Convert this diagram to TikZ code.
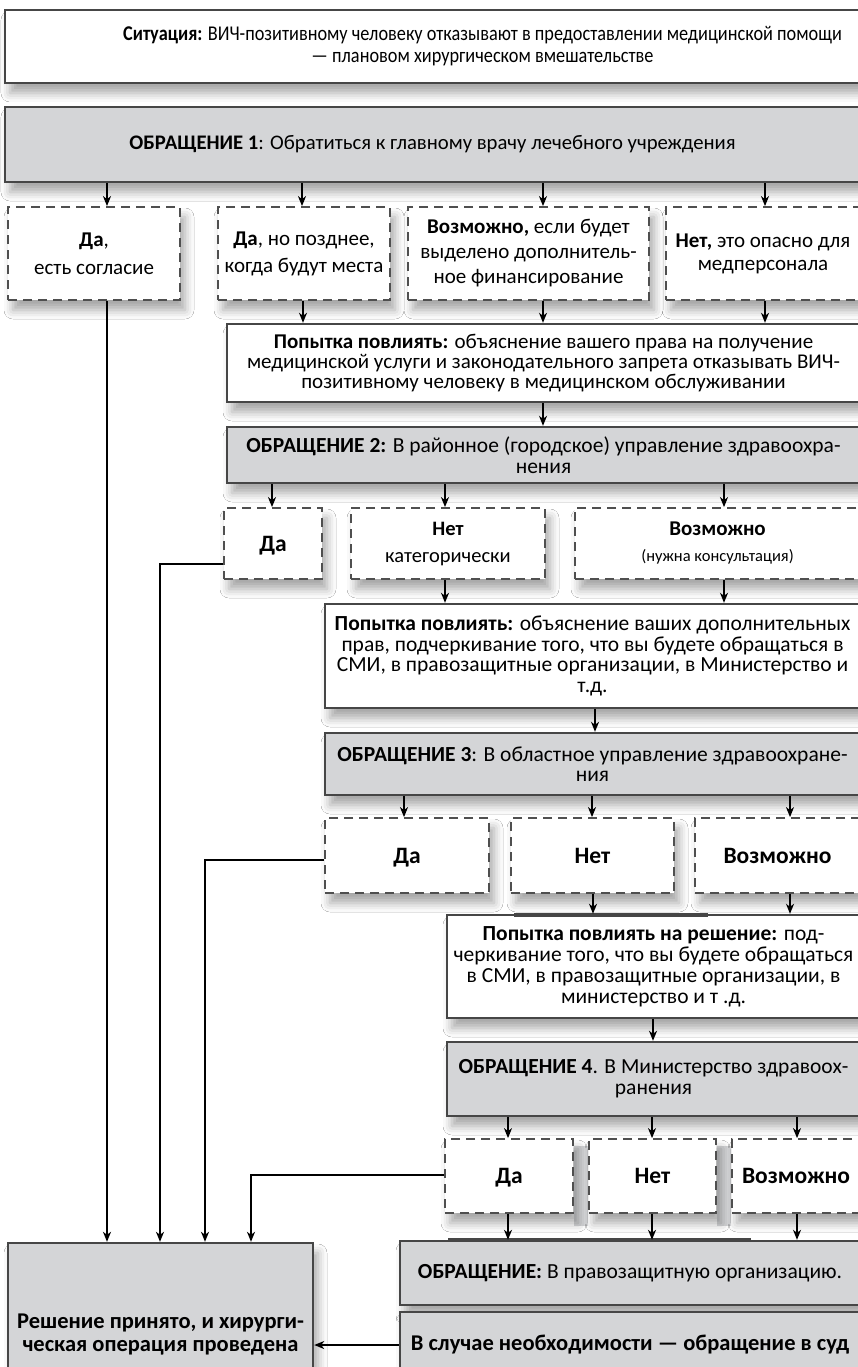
\documentclass[tikz,border=0pt]{standalone}
\usepackage{fontspec}
\setmainfont{Carlito}
\newfontfamily\narrowfont{Carlito}[FakeStretch=0.87]
\usetikzlibrary{arrows.meta,shadows.blur}
\definecolor{boxgrey}{HTML}{D4D5D7}
\definecolor{boxline}{HTML}{464646}
\definecolor{dashline}{HTML}{4F4F4F}
\definecolor{stripgrey}{HTML}{D6D7D9}
\newcommand\fs[2]{\fontsize{#1}{#2}\selectfont}
\tikzset{
  soft shadow/.style={blur shadow={shadow xshift=5pt,shadow yshift=-10pt,shadow blur radius=9pt,shadow opacity=35}},
  plain box/.style={draw=boxline,line width=2.4pt,fill=white,align=center,inner sep=0pt,font=\fs{21.5}{20.5},soft shadow},
  grey box/.style={plain box,fill=boxgrey},
  answer box/.style={draw=dashline,line width=1.8pt,dash pattern=on 9pt off 6pt,fill=white,align=center,inner sep=0pt,font=\fs{21}{25},soft shadow},
  big word/.style={font=\fs{23.5}{25}\bfseries,text depth=0pt},
  arr/.style={line width=1.4pt,-{Stealth[length=10pt,width=8pt,inset=3pt]}}
}
\begin{document}
\begin{tikzpicture}[x=1pt,y=-1pt]
\useasboundingbox (0,0) rectangle (858,1367);
\fill[white] (0,0) rectangle (858,1367);
\clip (0,0) rectangle (858,1367);
% strips between the last answers
\fill[stripgrey] (574,1146) rectangle (588,1226);
\fill[stripgrey] (717,1146) rectangle (731,1226);
\begin{scope}
\node[plain box,font=\narrowfont\fs{21}{22},minimum width=955pt,minimum height=73pt] (sit) at (482.5,46.5) {\textbf{Ситуация:} ВИЧ-позитивному человеку отказывают в предоставлении медицинской помощи\\— плановом хирургическом вмешательстве};
\node[grey box,font=\fs{20.7}{22},minimum width=855pt,minimum height=75pt] (ob1) at (432.5,144.5) {\textbf{ОБРАЩЕНИЕ 1}: Обратиться к главному врачу лечебного учреждения};
\node[answer box,font=\fs{21}{28},minimum width=172pt,minimum height=93pt] (r1a) at (94,253.5) {\textbf{Да},\\есть согласие};
\node[answer box,font=\fs{21}{27},minimum width=172pt,minimum height=93pt] (r1b) at (304,253.5) {\textbf{Да}, но позднее,\\когда будут места};
\node[answer box,minimum width=241pt,minimum height=93pt] (r1c) at (528.5,253.5) {\textbf{Возможно,} если будет\\выделено дополнитель-\\ное финансирование};
\node[answer box,font=\fs{21}{23},minimum width=194pt,minimum height=93pt] (r1d) at (763,253.5) {\textbf{Нет,} это опасно для\\медперсонала};
\node[plain box,font=\fs{21}{20},minimum width=633pt,minimum height=78pt] (try1) at (543.5,363) {\textbf{Попытка повлиять:} объяснение вашего права на получение\\медицинской услуги и законодательного запрета отказывать ВИЧ-\\позитивному человеку в медицинском обслуживании};
\node[grey box,font=\fs{21.5}{21},minimum width=633pt,minimum height=56pt] (ob2) at (543.5,455) {\textbf{ОБРАЩЕНИЕ 2:} В районное (городское) управление здравоохра-\\нения};
\node[answer box,big word,minimum width=98pt,minimum height=71pt] (r2a) at (273,543.5) {Да};
\node[answer box,font=\fs{20.5}{27},minimum width=194pt,minimum height=71pt] (r2b) at (448,543.5) {\textbf{Нет}\\категорически};
\node[answer box,font=\fs{21}{26},minimum width=285pt,minimum height=71pt] (r2c) at (717.5,543.5) {\textbf{Возможно}\\{\fs{16.5}{18}(нужна консультация)}};
\node[plain box,minimum width=535pt,minimum height=104pt] (try2) at (592.5,656) {\textbf{Попытка повлиять:} объяснение ваших дополнительных\\прав, подчеркивание того, что вы будете обращаться в\\СМИ, в правозащитные организации, в Министерство и\\т.д.};
\node[grey box,minimum width=535pt,minimum height=62pt] (ob3) at (592.5,764) {\textbf{ОБРАЩЕНИЕ 3}: В областное управление здравоохране-\\ния};
\node[answer box,big word,minimum width=164pt,minimum height=75pt] (r3a) at (407,855.5) {Да};
\node[answer box,big word,minimum width=163pt,minimum height=75pt] (r3b) at (592.5,855.5) {Нет};
\node[answer box,big word,minimum width=165pt,minimum height=75pt] (r3c) at (777.5,855.5) {Возможно};
\node[plain box,font=\fs{21.5}{21},minimum width=413pt,minimum height=103pt] (try3) at (653.5,966.5) {\textbf{Попытка повлиять на решение:} под-\\черкивание того, что вы будете обращаться\\в СМИ, в правозащитные организации, в\\министерство и т .д.};
\node[grey box,font=\fs{21.5}{21},minimum width=413pt,minimum height=74pt] (ob4) at (653.5,1079) {\textbf{ОБРАЩЕНИЕ 4}. В Министерство здравоох-\\ранения};
\node[answer box,big word,minimum width=128pt,minimum height=74pt] (r4a) at (509,1176) {Да};
\node[answer box,big word,minimum width=127pt,minimum height=74pt] (r4b) at (652.5,1176) {Нет};
\node[answer box,big word,minimum width=128pt,minimum height=74pt] (r4c) at (796,1176) {Возможно};
\node[grey box,minimum width=460pt,minimum height=64pt] (obR) at (630,1273) {\textbf{ОБРАЩЕНИЕ:} В правозащитную организацию.};
\node[grey box,font=\fs{22.5}{22}\bfseries,minimum width=460pt,minimum height=66pt] (sud) at (630,1345) {В случае необходимости — обращение в суд};
\node[grey box,font=\fs{22.5}{23}\bfseries,minimum width=305pt,minimum height=184pt] (res) at (160.5,1335) {Решение принято, и хирурги-\\ческая операция проведена};
\end{scope}
% darker pieces of the upper borders
\draw[boxline,line width=4pt] (514,915) -- (708,915);
\draw[boxline,line width=4pt] (448,1240) -- (751,1240);
\begin{scope}[every edge/.style={draw,arr}]
\draw (ob1.south -| 107,0) edge (r1a.north -| 107,0);
\draw (ob1.south -| 302,0) edge (r1b.north -| 302,0);
\draw (ob1.south -| 543,0) edge (r1c.north -| 543,0);
\draw (ob1.south -| 765,0) edge (r1d.north -| 765,0);
\draw (r1b.south -| 303,0) edge (try1.north -| 303,0);
\draw (r1c.south -| 543,0) edge (try1.north -| 543,0);
\draw (r1d.south -| 765,0) edge (try1.north -| 765,0);
\draw (try1.south -| 543,0) edge (ob2.north -| 543,0);
\draw (ob2.south -| 272,0) edge (r2a.north -| 272,0);
\draw (ob2.south -| 445,0) edge (r2b.north -| 445,0);
\draw (ob2.south -| 724,0) edge (r2c.north -| 724,0);
\draw (r2b.south -| 445,0) edge (try2.north -| 445,0);
\draw (r2c.south -| 724,0) edge (try2.north -| 724,0);
\draw (try2.south -| 595,0) edge (ob3.north -| 595,0);
\draw (ob3.south -| 404,0) edge (r3a.north -| 404,0);
\draw (ob3.south -| 592,0) edge (r3b.north -| 592,0);
\draw (ob3.south -| 790,0) edge (r3c.north -| 790,0);
\draw (r3b.south -| 593,0) edge (try3.north -| 593,0);
\draw (r3c.south -| 790,0) edge (try3.north -| 790,0);
\draw (try3.south -| 653,0) edge (ob4.north -| 653,0);
\draw (ob4.south -| 508,0) edge (r4a.north -| 508,0);
\draw (ob4.south -| 652,0) edge (r4b.north -| 652,0);
\draw (ob4.south -| 797,0) edge (r4c.north -| 797,0);
\draw (r4a.south -| 508,0) edge (obR.north -| 508,0);
\draw (r4b.south -| 652,0) edge (obR.north -| 652,0);
\draw (r4c.south -| 797,0) edge (obR.north -| 797,0);
\draw (r1a.south -| 107,0) edge (res.north -| 107,0);
\end{scope}
\draw[arr] (r2a.west |- 0,564) -| (res.north -| 160,0);
\draw[arr] (r3a.west |- 0,860) -| (res.north -| 205,0);
\draw[arr] (r4a.west |- 0,1175) -| (res.north -| 251,0);
\draw[arr] (sud.west) -- (res.east |- sud.west);
\end{tikzpicture}
\end{document}
